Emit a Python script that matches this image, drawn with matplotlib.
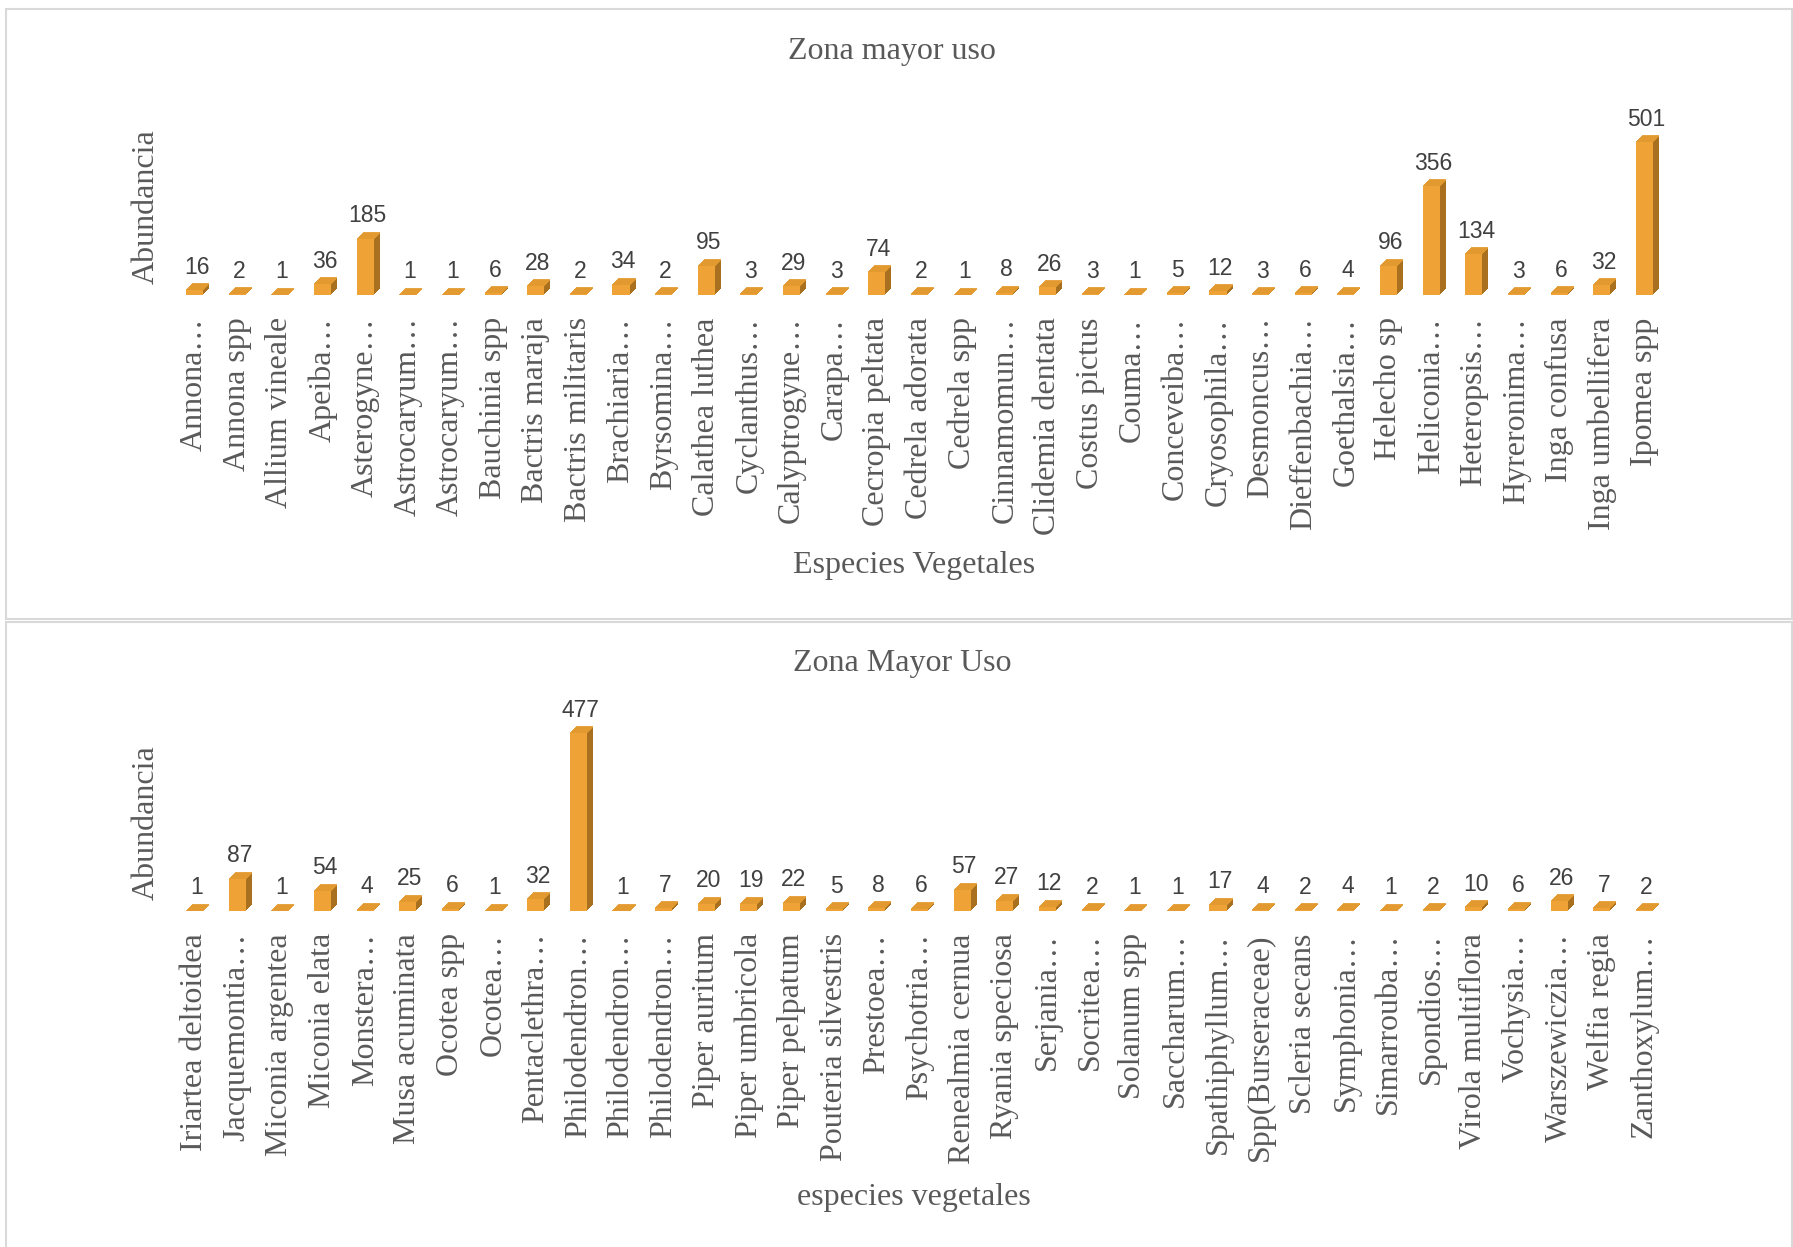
import matplotlib
matplotlib.use('Agg')

import numpy as np
import matplotlib.pyplot as plt
from matplotlib.patches import Rectangle
from matplotlib.transforms import offset_copy

plt.rcParams['font.family'] = ['Liberation Serif', 'DejaVu Serif']

# --- data ---
top_species = [
    "Annona…", "Annona spp", "Allium vineale", "Apeiba…", "Asterogyne…",
    "Astrocaryum…", "Astrocaryum…", "Bauchinia spp", "Bactris maraja",
    "Bactris militaris", "Brachiaria…", "Byrsomina…", "Calathea luthea",
    "Cyclanthus…", "Calyptrogyne…", "Carapa…", "Cecropia peltata",
    "Cedrela adorata", "Cedrela spp", "Cinnamomun…", "Clidemia dentata",
    "Costus pictus", "Couma…", "Conceveiba…", "Cryosophila…", "Desmoncus…",
    "Dieffenbachia…", "Goethalsia…", "Helecho sp", "Heliconia…",
    "Heteropsis…", "Hyreronima…", "Inga confusa", "Inga umbellifera",
    "Ipomea spp",
]
top_values = [16, 2, 1, 36, 185, 1, 1, 6, 28, 2, 34, 2, 95, 3, 29, 3, 74, 2,
              1, 8, 26, 3, 1, 5, 12, 3, 6, 4, 96, 356, 134, 3, 6, 32, 501]

bottom_species = [
    "Iriartea deltoidea", "Jacquemontia…", "Miconia argentea", "Miconia elata",
    "Monstera…", "Musa acuminata", "Ocotea spp", "Ocotea…", "Pentaclethra…",
    "Philodendron…", "Philodendron…", "Philodendron…", "Piper auritum",
    "Piper umbricola", "Piper pelpatum", "Pouteria silvestris", "Prestoea…",
    "Psychotria…", "Renealmia cernua", "Ryania speciosa", "Serjania…",
    "Socritea…", "Solanum spp", "Saccharum…", "Spathiphyllum…",
    "Spp(Burseraceae)", "Scleria secans", "Symphonia…", "Simarrouba…",
    "Spondios…", "Virola multiflora", "Vochysia…", "Warszewiczia…",
    "Welfia regia", "Zanthoxylum…",
]
bottom_values = [1, 87, 1, 54, 4, 25, 6, 1, 32, 477, 1, 7, 20, 19, 22, 5, 8, 6,
                 57, 27, 12, 2, 1, 1, 17, 4, 2, 4, 1, 2, 10, 6, 26, 7, 2]

FRONT = '#EFA236'
TOPFACE = '#E39A30'
SIDE = '#A8701F'
TXT = '#595959'
DEPTH = 6
W, H = 1793, 1247

fig = plt.figure(figsize=(W / 100, H / 100), dpi=100)


def fx(x):
    return x / W


def fy(y):
    return 1 - y / H


def draw_panel(ax, names, values, ymax):
    x = np.arange(len(names))
    v = np.array(values)
    bw = 0.4
    # extruded depth of the pseudo-3D bars
    for i in range(1, DEPTH + 1):
        tr = offset_copy(ax.transData, fig=fig, x=i, y=i, units='dots')
        ax.bar(x, v, width=bw, color=SIDE, transform=tr, zorder=1)
    for i in range(0, DEPTH + 1):
        tr = offset_copy(ax.transData, fig=fig, x=i, y=i, units='dots')
        ax.hlines(v, x - bw / 2, x + bw / 2, colors=TOPFACE, linewidth=1.3,
                  transform=tr, zorder=2)
    ax.bar(x, v, width=bw, color=FRONT, zorder=3)
    for xi, val in zip(x, v):
        ax.annotate(str(val), (xi, val), xytext=(2, 23), textcoords='offset pixels',
                    ha='center', va='center', fontsize=16.5,
                    family='Liberation Sans', color='#404040')
    ax.set_xlim(-0.6, len(names) - 0.4)
    ax.set_ylim(0, ymax)
    ax.set_xticks(x)
    ax.set_xticklabels(names, rotation=90, fontsize=23, color=TXT)
    ax.tick_params(axis='x', length=0, pad=16)
    ax.set_yticks([])
    for s in ax.spines.values():
        s.set_visible(False)
    ax.patch.set_alpha(0)


left = 169
width = 1501

# top panel
ax1 = fig.add_axes([fx(left), fy(295), fx(width), 171 / H])
draw_panel(ax1, top_species, top_values, 560)

# bottom panel
ax2 = fig.add_axes([fx(left), fy(911), fx(width), 194 / H])
draw_panel(ax2, bottom_species, bottom_values, 520)

# panel borders
fig.add_artist(Rectangle((fx(6), fy(619)), fx(1786), (619 - 9) / H,
                         transform=fig.transFigure, fill=False,
                         ec='#D9D9D9', lw=1.5))
fig.add_artist(Rectangle((fx(6), fy(1260)), fx(1786), (1260 - 622) / H,
                         transform=fig.transFigure, fill=False,
                         ec='#D9D9D9', lw=1.5))

fig.text(fx(892), fy(52), "Zona mayor uso", ha='center', va='center',
         fontsize=23, color=TXT)
fig.text(fx(914), fy(566), "Especies Vegetales", ha='center', va='center',
         fontsize=23, color=TXT)
fig.text(fx(146), fy(207), "Abundancia", ha='center', va='center',
         rotation=90, fontsize=23, color=TXT)

fig.text(fx(902), fy(664), "Zona Mayor Uso", ha='center', va='center',
         fontsize=23, color=TXT)
fig.text(fx(914), fy(1198), "especies vegetales", ha='center', va='center',
         fontsize=23, color=TXT)
fig.text(fx(146), fy(823), "Abundancia", ha='center', va='center',
         rotation=90, fontsize=23, color=TXT)

fig.savefig('out.png', dpi=100)
